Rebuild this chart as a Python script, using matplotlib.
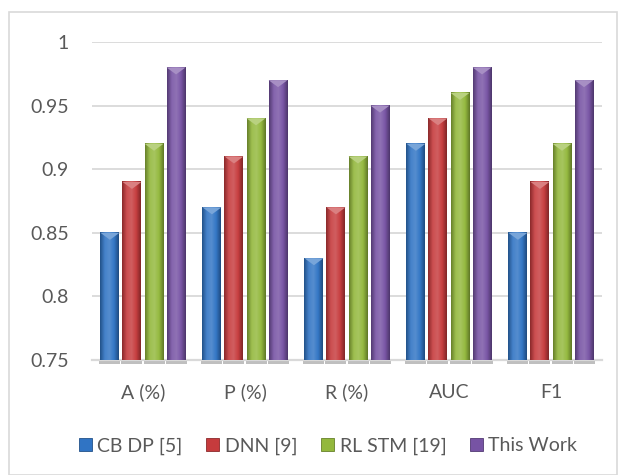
import numpy as np
import matplotlib
matplotlib.use("Agg")
import matplotlib.pyplot as plt
from matplotlib.colors import LinearSegmentedColormap, to_rgb
from matplotlib.patches import Patch, Polygon, Rectangle

categories = ["A (%)", "P (%)", "R (%)", "AUC", "F1"]
series_names = ["CB DP [5]", "DNN [9]", "RL STM [19]", "This Work"]
cb_dp = [0.85, 0.87, 0.83, 0.92, 0.85]
dnn = [0.89, 0.91, 0.87, 0.94, 0.89]
rl_stm = [0.92, 0.94, 0.91, 0.96, 0.92]
this_work = [0.98, 0.97, 0.95, 0.98, 0.97]
series = [cb_dp, dnn, rl_stm, this_work]
colors = ["#3074C4", "#C63B3D", "#93B83C", "#7753A4"]
y_ticks = [0.75, 0.8, 0.85, 0.9, 0.95, 1.0]
y_labels = ["0.75", "0.8", "0.85", "0.9", "0.95", "1"]

plt.rcParams['font.family'] = ['Lato', 'DejaVu Sans']
text_color = "#595959"
grid_color = "#D9D9D9"


def shade(c, f):
    r = np.array(to_rgb(c))
    if f < 0:
        return tuple(r * (1 + f))
    return tuple(r + (1 - r) * f)


fig = plt.figure(figsize=(6.18, 4.75), dpi=100)
fig.patches.append(Rectangle((9 / 618, 0), 608 / 618, 1 - 12 / 475,
                             transform=fig.transFigure, fill=False,
                             edgecolor=grid_color, linewidth=1.2))
ax = fig.add_axes([92 / 618, 1 - 360 / 475, 510 / 618, 318 / 475])

x = np.arange(len(categories))
bw = 0.186
step = 0.216
ymin, ymax = 0.75, 1.0
bevel = 0.0055

for i, (vals, col) in enumerate(zip(series, colors)):
    bars = ax.bar(x + (i - 1.5) * step, np.array(vals) - ymin, bw, bottom=ymin,
                  color=col, zorder=2, linewidth=0)
    cmap = LinearSegmentedColormap.from_list(
        "g", [shade(col, -0.3), shade(col, 0.1), shade(col, 0.18),
              shade(col, 0.02), shade(col, -0.35)])
    grad = np.linspace(0, 1, 64).reshape(1, -1)
    for b in bars:
        bx, by, w, h = b.get_x(), b.get_y(), b.get_width(), b.get_height()
        # soft shadow under the bar
        ax.add_patch(Rectangle((bx - 0.01, ymin), w + 0.02, -0.003,
                               color="#BFBFBF", clip_on=False, zorder=1.5,
                               linewidth=0))
        ax.imshow(grad, cmap=cmap, extent=[bx, bx + w, by, by + h],
                  aspect="auto", zorder=3)
        top = by + h
        ax.add_patch(Polygon([(bx, top), (bx + w, top), (bx + w / 2, top - bevel)],
                             closed=True, color=shade(col, 0.35), zorder=4,
                             linewidth=0))

ax.set_xlim(-0.5, len(categories) - 0.5)
ax.set_ylim(ymin, ymax)
ax.set_yticks(y_ticks)
ax.set_yticklabels(y_labels)
ax.set_xticks(x)
ax.set_xticklabels(categories)
ax.yaxis.grid(True, color=grid_color, linewidth=1.3, zorder=0)
ax.set_axisbelow(True)
for s in ["top", "right", "left"]:
    ax.spines[s].set_visible(False)
ax.spines["bottom"].set_color(grid_color)
ax.spines["bottom"].set_linewidth(1.6)
ax.tick_params(axis="both", length=0, labelsize=14, colors=text_color)
ax.tick_params(axis="y", pad=16.5)
ax.tick_params(axis="x", pad=17)

handles = [Patch(facecolor=c, edgecolor=shade(c, -0.3), linewidth=0.6) for c in colors]
leg = fig.legend(handles, series_names, loc="center",
                 bbox_to_anchor=(328 / 618, 1 - 446 / 475), ncol=4, frameon=False,
                 fontsize=14, handlelength=0.67, handleheight=0.67,
                 handletextpad=0.3, columnspacing=1.2, labelcolor=text_color)

fig.savefig("out.png", dpi=100)
